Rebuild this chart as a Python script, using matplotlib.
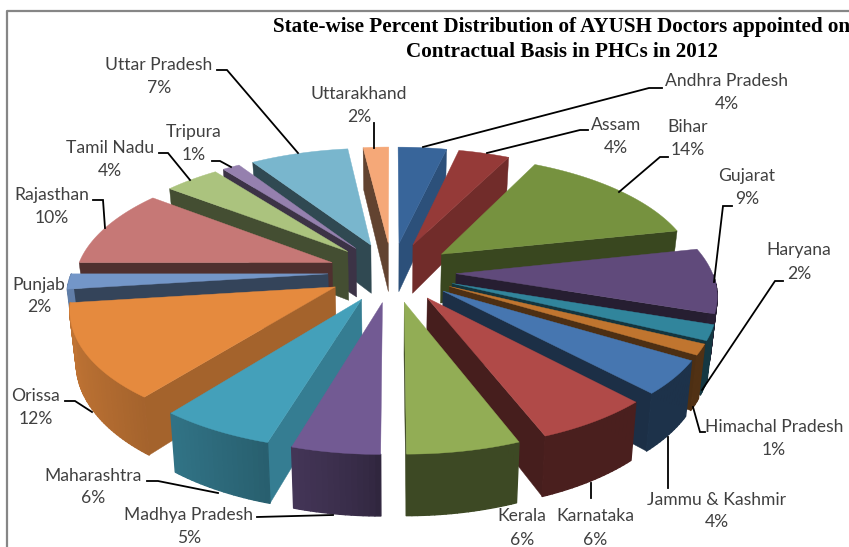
import matplotlib
matplotlib.use("Agg")
import matplotlib.pyplot as plt
from matplotlib.collections import PolyCollection
from matplotlib.colors import to_rgb
import numpy as np

# state-wise shares (labels are rounded)
states = ["Andhra Pradesh", "Assam", "Bihar", "Gujarat", "Haryana", "Himachal Pradesh",
          "Jammu & Kashmir", "Karnataka", "Kerala", "Madhya Pradesh", "Maharashtra",
          "Orissa", "Punjab", "Rajasthan", "Tamil Nadu", "Tripura", "Uttar Pradesh",
          "Uttarakhand"]
values = [3.6, 3.8, 14.2, 8.6, 2.0, 1.4, 4.4, 6.1, 5.9, 4.6, 6.0, 12.4, 2.0, 10.4, 4.1, 1.3, 7.3, 1.9]
pct_labels = ["4%", "4%", "14%", "9%", "2%", "1%", "4%", "6%", "6%", "5%", "6%", "12%", "2%",
              "10%", "4%", "1%", "7%", "2%"]
colors = ["#38659A", "#953A38", "#76923F", "#604A7B", "#31859C", "#C0752F", "#4676B0", "#B04A48",
          "#92AD55", "#725A93", "#44A0BA", "#E58A3E", "#7396C8", "#C67876", "#ABC37E", "#9580AE",
          "#79B6CD", "#F5A878"]

# label centres in pixels, (x, y name, y percent)
label_pos = [(727, 81, 104), (616, 125, 148), (688, 127, 150), (747, 176, 199), (799, 250, 274),
             (774, 427, 450), (717, 500, 522), (595, 516, 540), (522, 516, 540), (189, 515, 538),
             (93, 476, 498), (36, 396, 419), (39, 285, 307), (52, 195, 218), (110, 148, 171),
             (194, 132, 155), (159, 65, 88), (359, 94, 117)]
leaders = [[(423, 147), (649, 88), (662, 88)], [(487, 153), (580, 130), (588, 130)],
           [(619, 192), (660, 157), (668, 157)], [(714, 282), (723, 206), (732, 206)],
           [(702, 390), (775, 281), (783, 281)], [(693, 407), (700, 432), (705, 432)],
           [(668, 437), (668, 488)], [(591, 483), (591, 498)], [(257, 517), (333, 515)],
           [(147, 481), (158, 481), (218, 493)], [(65, 401), (75, 401), (92, 412)],
           [(93, 200), (103, 200), (105, 228)], [(159, 153), (168, 153), (190, 180)],
           [(212, 161), (220, 161), (231, 167)], [(217, 70), (227, 70), (298, 153)],
           [(374, 123), (374, 148)]]

# projection settings
cx, cy = 392, 272
a, b, k = 320, 148.5, 0.188
depth = 50
bottom_scale = 0.98
explode = 0.2
radius = 0.8


def project(u, v, low=False):
    w = 1 - k * v
    x = a * u / w
    y = b * v / w
    if low:
        return cx + x * bottom_scale, cy + y + depth / w
    return cx + x, cy + y


def shade(color, f):
    return tuple(c * f for c in to_rgb(color))


fig = plt.figure(figsize=(8.49, 5.47), dpi=100)
ax = fig.add_axes([0, 0, 1, 1])
ax.set_xlim(0, 849)
ax.set_ylim(547, 0)
ax.axis("off")

# frame of the original chart
ax.plot([7, 7, 849], [547, 11, 11], color="#868686", lw=1.6, zorder=0)

fracs = np.array(values) / sum(values)
edges = np.concatenate([[0], np.cumsum(fracs)]) * 2 * np.pi
mids = (edges[:-1] + edges[1:]) / 2

# back slices first
order = np.argsort(-np.cos(mids))
for z, i in enumerate(order):
    t0, t1, tm = edges[i], edges[i + 1], mids[i]
    ou, ov = explode * np.sin(tm), -explode * np.cos(tm)
    th = np.linspace(t0, t1, max(int(np.degrees(t1 - t0)), 3))
    us = ou + radius * np.sin(th)
    vs = ov - radius * np.cos(th)
    base = 10 + z * 3

    # cut faces, only the ones turned towards the viewer
    for t, nu, nv in [(t0, np.sin(t0 - np.pi / 2), -np.sin(t0)), (t1, np.sin(t1 + np.pi / 2), np.sin(t1))]:
        if nv <= 0:
            continue
        eu, ev = ou + radius * np.sin(t), ov - radius * np.cos(t)
        f = 0.4 + 0.4 * max(0, nu)
        pts = [project(ou, ov), project(eu, ev), project(eu, ev, True), project(ou, ov, True)]
        ax.fill(*zip(*pts), color=shade(colors[i], f), lw=0.3, zorder=base)

    # outer rim, lighter towards the left
    quads, cols = [], []
    for j in range(len(th) - 1):
        if np.cos(th[j]) > 0:
            continue
        quads.append([project(us[j], vs[j]), project(us[j + 1], vs[j + 1]),
                      project(us[j + 1], vs[j + 1], True), project(us[j], vs[j], True)])
        f = 0.42 + 0.42 * max(0, -np.sin(th[j])) ** 0.7
        cols.append(shade(colors[i], f))
    if quads:
        ax.add_collection(PolyCollection(quads, facecolors=cols, edgecolors=cols, linewidths=1.0,
                                         zorder=base + 1))

    # top face
    top = [project(ou, ov)] + [project(p, q) for p, q in zip(us, vs)]
    ax.fill(*zip(*top), facecolor=colors[i], edgecolor=colors[i], lw=0.3, zorder=base + 2)

for pts in leaders:
    ax.plot(*zip(*pts), color="black", lw=1.3, solid_joinstyle="miter", zorder=200)

for name, pct, (lx, y1, y2) in zip(states, pct_labels, label_pos):
    ax.text(lx, y1, name, family="Lato", fontsize=12.6, color="#404040", ha="center", va="center", zorder=210)
    ax.text(lx, y2, pct, family="Lato", fontsize=12.6, color="#404040", ha="center", va="center", zorder=210)

title_lines = ["State-wise Percent Distribution of AYUSH Doctors appointed on",
               "Contractual Basis in PHCs in 2012"]
ax.text(562, 27, title_lines[0], family="Liberation Serif", weight="bold", fontsize=15.2,
        color="black", ha="center", va="center", zorder=210, clip_on=True)
ax.text(562, 52, title_lines[1], family="Liberation Serif", weight="bold", fontsize=15.2,
        color="black", ha="center", va="center", zorder=210)

fig.savefig("out.png", dpi=100)
plt.close(fig)
